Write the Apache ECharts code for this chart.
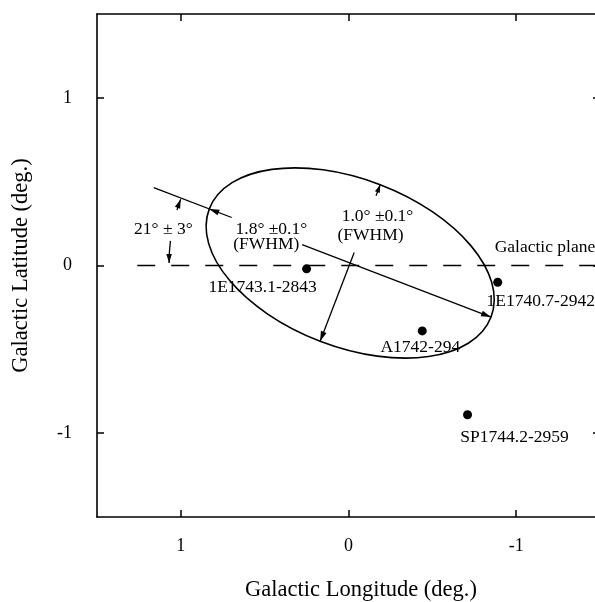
<!DOCTYPE html>
<html><head><meta charset="utf-8">
<script src="https://cdn.jsdelivr.net/npm/echarts@6/dist/echarts.min.js"></script>
<style>html,body{margin:0;padding:0;background:#fff}#c{width:595px;height:602px}</style>
</head><body><div id="c"></div>
<script>
// ---- data ----
const sourceNames = ['1E1743.1-2843', '1E1740.7-2942', 'A1742-294', 'SP1744.2-2959'];
const sourceLon = [0.25, -0.89, -0.44, -0.71];
const sourceLat = [-0.02, -0.10, -0.39, -0.89];
const xTickValues = [1, 0, -1];
const yTickValues = [1, 0, -1];
const ellipseCenter = [-0.01, 0.015];   // deg (l, b)
const ellipseFwhm = [1.8, 1.0];        // major, minor FWHM (deg)
const ellipseAngle = 21;               // deg, tilt to galactic plane
const planeLon = [1.26, -1.5];
const planeLat = [0, 0];
const annotationTexts = ['21° ± 3°', '1.8° ±0.1°', '(FWHM)', '1.0° ±0.1°', '(FWHM)', 'Galactic plane'];
const annotationLon = [1.104, 0.46, 0.49, -0.173, -0.131, -0.872];
const annotationLat = [0.216, 0.216, 0.126, 0.294, 0.18, 0.108];

// ---- annotation geometry (distances along ellipse axes, deg) ----
const majorOuterSeg = [1.255, 0.757];
const majorInnerStart = 0.307;
const minorInnerStart = 0.067;
const minorTickStart = 0.43;
const arcRadius = 1.08;
const arcParts = [[7, 0], [17, 20.6]];
const labelOffsets = [[-44, 19], [43, 19], [-2, 17], [47, 23]];
const annotationAlign = ['center', 'center', 'center', 'center', 'center', 'left'];

const FONT = 'Liberation Serif';
const RAD = Math.PI / 180;

function arrowHead(tip, dir, len, half) {
  const nx = -dir[1], ny = dir[0];
  const bx = tip[0] - dir[0] * len, by = tip[1] - dir[1] * len;
  return { type: 'polygon', shape: { points: [tip, [bx + nx * half, by + ny * half], [bx - nx * half, by - ny * half]] }, style: { fill: '#000' } };
}
function seg(p, q) {
  return { type: 'line', shape: { x1: p[0], y1: p[1], x2: q[0], y2: q[1] }, style: { stroke: '#000', lineWidth: 1.3 } };
}

function renderEllipse(params, api) {
  const c = api.coord([api.value(0), api.value(1)]);
  const s = api.size([1, 1]);
  const th = ellipseAngle * RAD;
  const a = ellipseFwhm[0] / 2, b = ellipseFwhm[1] / 2;
  const u = [-Math.cos(th), -Math.sin(th)];
  const v = [Math.sin(th), -Math.cos(th)];
  const pu = d => [c[0] + d * s[0] * u[0], c[1] + d * s[1] * u[1]];
  const pv = d => [c[0] + d * s[0] * v[0], c[1] + d * s[1] * v[1]];
  const neg = d => [-d[0], -d[1]];
  const ch = [];
  ch.push({ type: 'ellipse', x: c[0], y: c[1], rotation: -th,
    shape: { cx: 0, cy: 0, rx: a * s[0], ry: b * s[1] },
    style: { fill: null, stroke: '#000', lineWidth: 1.6 } });
  // major axis
  ch.push(seg(pu(majorOuterSeg[0]), pu(majorOuterSeg[1])));
  ch.push(arrowHead(pu(a), u, 10, 3));
  ch.push(seg(pu(majorInnerStart), pu(-a)));
  ch.push(arrowHead(pu(-a), neg(u), 10, 3));
  // minor axis
  ch.push(seg(pv(minorInnerStart), pv(-b)));
  ch.push(arrowHead(pv(-b), neg(v), 10, 3));
  ch.push(seg(pv(minorTickStart), pv(b)));
  ch.push(arrowHead(pv(b), v, 8, 2.6));
  // angle arc
  const r = arcRadius * s[0];
  arcParts.forEach(p => {
    const a0 = Math.PI + p[0] * RAD, a1 = Math.PI + p[1] * RAD;
    ch.push({ type: 'arc', shape: { cx: c[0], cy: c[1], r: r, startAngle: Math.min(a0, a1), endAngle: Math.max(a0, a1), clockwise: true },
      style: { fill: null, stroke: '#000', lineWidth: 1.3 } });
    const tip = [c[0] + r * Math.cos(a1), c[1] + r * Math.sin(a1)];
    const sgn = a1 > a0 ? 1 : -1;
    const dir = [-Math.sin(a1) * sgn, Math.cos(a1) * sgn];
    ch.push(arrowHead(tip, dir, 9, 2.8));
  });
  return { type: 'group', children: ch };
}

function renderText(params, api) {
  const i = api.value(2);
  const p = api.coord([api.value(0), api.value(1)]);
  return { type: 'text', x: p[0], y: p[1],
    style: { text: annotationTexts[i], font: '17.5px "' + FONT + '"', fill: '#000', align: annotationAlign[i], verticalAlign: 'middle' } };
}

const tickStyle = { show: true, inside: true, length: 7, lineStyle: { color: '#000', width: 1.5 } };
const lineStyle = { show: true, lineStyle: { color: '#000', width: 1.6 } };

const option = {
  animation: false,
  backgroundColor: '#fff',
  grid: { left: 97, top: 14, width: 503, height: 503, containLabel: false, outerBoundsMode: 'none' },
  xAxis: [
    { type: 'value', inverse: true, min: -1.5, max: 1.5, position: 'bottom',
      axisLine: Object.assign({ onZero: false }, lineStyle),
      axisTick: Object.assign({ customValues: xTickValues }, tickStyle),
      axisLabel: { customValues: xTickValues, fontFamily: FONT, fontSize: 18, color: '#000', margin: 20 },
      splitLine: { show: false },
      name: 'Galactic Longitude (deg.)', nameLocation: 'middle', nameGap: 62,
      nameTextStyle: { fontFamily: FONT, fontSize: 22.5, color: '#000', padding: [0, 0, 0, 25] } },
    { type: 'value', inverse: true, min: -1.5, max: 1.5, position: 'top',
      axisLine: Object.assign({ onZero: false }, lineStyle),
      axisTick: Object.assign({ customValues: xTickValues }, tickStyle),
      axisLabel: { show: false }, splitLine: { show: false } }
  ],
  yAxis: [
    { type: 'value', min: -1.5, max: 1.5, position: 'left',
      axisLine: Object.assign({ onZero: false }, lineStyle),
      axisTick: Object.assign({ customValues: yTickValues }, tickStyle),
      axisLabel: { customValues: yTickValues, fontFamily: FONT, fontSize: 18, color: '#000', margin: 25 },
      splitLine: { show: false },
      name: 'Galactic Latitude (deg.)', nameLocation: 'middle', nameGap: 64, nameRotate: 90,
      nameTextStyle: { fontFamily: FONT, fontSize: 22.5, color: '#000' } },
    { type: 'value', min: -1.5, max: 1.5, position: 'right',
      axisLine: Object.assign({ onZero: false }, lineStyle),
      axisTick: Object.assign({ customValues: yTickValues }, tickStyle),
      axisLabel: { show: false }, splitLine: { show: false } }
  ],
  series: [
    { type: 'line', data: planeLon.map((l, i) => [l, planeLat[i]]), symbol: 'none',
      lineStyle: { color: '#000', width: 1.5, type: [18, 16] }, silent: true },
    { type: 'custom', renderItem: renderEllipse, data: [ellipseCenter], silent: true },
    { type: 'custom', renderItem: renderText, data: annotationTexts.map((t, i) => [annotationLon[i], annotationLat[i], i]), silent: true },
    { type: 'scatter', symbol: 'circle', symbolSize: 9, itemStyle: { color: '#000', opacity: 1 },
      data: sourceNames.map((n, i) => ({ value: [sourceLon[i], sourceLat[i]], name: n,
        label: { show: true, formatter: n, position: 'inside', offset: labelOffsets[i],
          fontFamily: FONT, fontSize: 17.5, color: '#000' } })) }
  ]
};
const chart = echarts.init(document.getElementById('c'));
chart.setOption(option);
</script>
</body></html>
